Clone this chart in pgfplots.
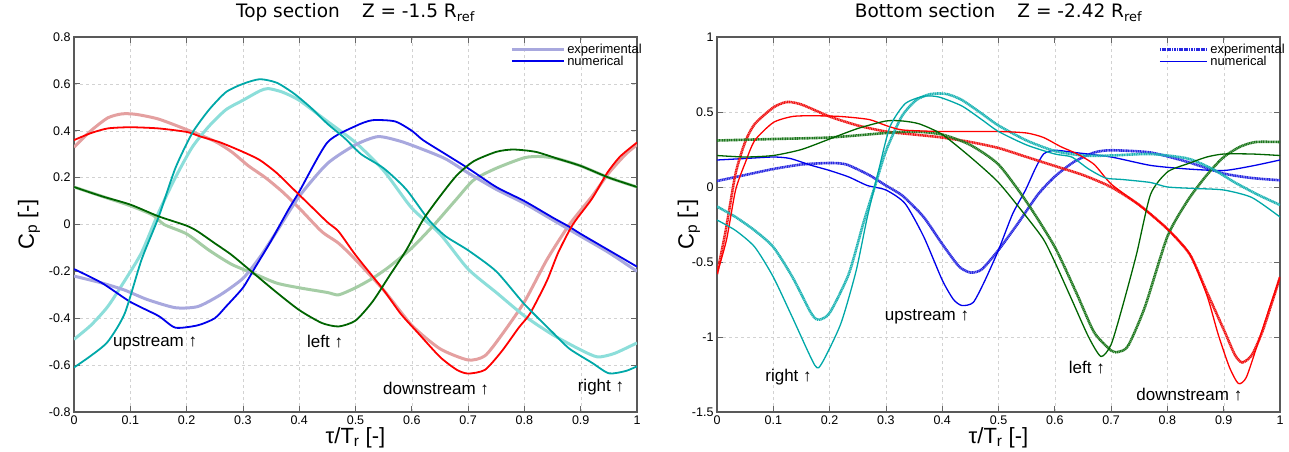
\documentclass[border=0pt]{standalone}
\usepackage{fontspec}
\setmainfont{Liberation Sans}
\newfontfamily\djv{DejaVu Sans}
\usepackage{pgfplots}
\pgfplotsset{compat=1.18}
\definecolor{cred}{RGB}{255,0,0}
\definecolor{cblue}{RGB}{0,0,235}
\definecolor{ccyan}{RGB}{0,168,168}
\definecolor{cgreen}{RGB}{0,100,0}
\definecolor{pred}{RGB}{228,160,160}
\definecolor{pblue}{RGB}{168,168,222}
\definecolor{pcyan}{RGB}{140,222,218}
\definecolor{pgreen}{RGB}{165,205,165}
\definecolor{tred}{RGB}{240,20,20}
\definecolor{tblue}{RGB}{40,40,225}
\definecolor{tcyan}{RGB}{30,180,180}
\definecolor{tgreen}{RGB}{30,120,30}
\tikzset{ann/.style={font=\fontsize{17}{17}\selectfont}}
\pgfplotsset{
  myax/.style={
    scale only axis, width=563pt, height=375pt,
    xmin=0, xmax=1,
    xtick={0,0.1,0.2,0.3,0.4,0.5,0.6,0.7,0.8,0.9,1},
    xticklabels={0,0.1,0.2,0.3,0.4,0.5,0.6,0.7,0.8,0.9,1},
    grid=major, grid style={dashed, gray!35},
    axis line style={black!65, line width=1.1pt},
    tick align=inside, xtick pos=both, ytick pos=both,
    major tick length=6pt, tick style={black!60, line width=0.8pt},
    ticklabel style={font=\fontsize{12.5}{12.5}\selectfont},
    xlabel={τ/T\textsubscript{r} [-]},
    ylabel={C\textsubscript{p} [-]},
    label style={font=\fontsize{22}{22}\selectfont},
    xlabel style={at={(axis description cs:0.5,-0.069)}, anchor=center},
    title style={at={(axis description cs:0.5,1.05)}, anchor=center, font=\djv\fontsize{18.5}{18.5}\selectfont},
    legend cell align=left,
    legend style={draw=none, fill=none, font=\fontsize{13}{13}\selectfont, inner sep=1pt, row sep=-3pt, at={(1.014,0.99)}, anchor=north east},
    legend image code/.code={\draw[#1] (0pt,0pt) -- (52pt,0pt);},
  },
  numL/.style={line width=1.8pt, smooth, tension=0.4},
  expL/.style={line width=3pt, smooth, tension=0.4},
  numR/.style={line width=1.3pt, smooth, tension=0.4},
  expR/.style={line width=2.6pt, smooth, tension=0.4, dash pattern=on 1.2pt off 0.5pt},
}
\begin{document}
\begin{tikzpicture}
\useasboundingbox (0,0) rectangle (1289pt,451pt);
\begin{axis}[myax, at={(74pt,39pt)}, anchor=south west,
  ymin=-0.8, ymax=0.8,
  ytick={-0.8,-0.6,-0.4,-0.2,0,0.2,0.4,0.6,0.8},
  yticklabels={-0.8,-0.6,-0.4,-0.2,0,0.2,0.4,0.6,0.8},
  ylabel style={at={(axis description cs:-0.08,0.5)}, anchor=center},
  title={Top section\hspace{1.2em}Z = -1.5 R\textsubscript{ref}}]
% experimental (light)
\addplot[expL, pred, forget plot] coordinates {(0,0.33)(0.03,0.40)(0.06,0.455)(0.085,0.472)(0.11,0.47)(0.15,0.45)(0.2,0.405)(0.25,0.355)(0.28,0.31)(0.31,0.25)(0.34,0.20)(0.37,0.14)(0.4,0.07)(0.44,-0.03)(0.47,-0.08)(0.5,-0.15)(0.55,-0.28)(0.6,-0.43)(0.65,-0.53)(0.7,-0.578)(0.73,-0.56)(0.76,-0.47)(0.8,-0.33)(0.84,-0.15)(0.88,0.0)(0.92,0.12)(0.95,0.22)(0.98,0.3)(1.0,0.34)};
\addplot[expL, pcyan, forget plot] coordinates {(0,-0.49)(0.03,-0.43)(0.06,-0.35)(0.09,-0.24)(0.12,-0.12)(0.15,0.05)(0.18,0.20)(0.21,0.33)(0.24,0.42)(0.27,0.49)(0.3,0.53)(0.33,0.57)(0.345,0.58)(0.37,0.565)(0.4,0.53)(0.45,0.44)(0.5,0.35)(0.55,0.23)(0.6,0.07)(0.65,-0.04)(0.7,-0.19)(0.75,-0.29)(0.8,-0.39)(0.85,-0.47)(0.9,-0.535)(0.93,-0.565)(0.96,-0.55)(1.0,-0.505)};
\addplot[expL, pgreen, forget plot] coordinates {(0,0.16)(0.05,0.12)(0.1,0.08)(0.14,0.04)(0.16,0.0)(0.2,-0.04)(0.24,-0.11)(0.28,-0.17)(0.32,-0.21)(0.36,-0.25)(0.4,-0.27)(0.45,-0.29)(0.47,-0.30)(0.5,-0.27)(0.53,-0.23)(0.56,-0.18)(0.6,-0.1)(0.64,0.0)(0.68,0.11)(0.71,0.19)(0.75,0.24)(0.8,0.285)(0.83,0.29)(0.86,0.28)(0.9,0.25)(0.95,0.20)(1.0,0.16)};
\addplot[expL, pblue] coordinates {(0,-0.22)(0.05,-0.25)(0.09,-0.28)(0.13,-0.32)(0.18,-0.355)(0.22,-0.35)(0.26,-0.30)(0.3,-0.23)(0.33,-0.14)(0.36,-0.03)(0.4,0.12)(0.45,0.26)(0.5,0.34)(0.54,0.375)(0.58,0.355)(0.62,0.32)(0.66,0.28)(0.7,0.22)(0.75,0.15)(0.8,0.09)(0.85,0.02)(0.9,-0.05)(0.95,-0.12)(1.0,-0.20)};
\addlegendentry{experimental}
% numerical
\addplot[numL, cblue] coordinates {(0,-0.19)(0.05,-0.25)(0.1,-0.33)(0.15,-0.39)(0.18,-0.44)(0.22,-0.43)(0.25,-0.40)(0.27,-0.35)(0.3,-0.27)(0.32,-0.19)(0.35,-0.07)(0.38,0.06)(0.4,0.14)(0.45,0.35)(0.5,0.42)(0.53,0.445)(0.57,0.44)(0.6,0.40)(0.62,0.36)(0.66,0.30)(0.7,0.24)(0.75,0.16)(0.8,0.10)(0.85,0.03)(0.88,-0.01)(0.9,-0.04)(0.95,-0.11)(1.0,-0.18)};
\addlegendentry{numerical}
\addplot[numL, cred, forget plot] coordinates {(0,0.36)(0.03,0.39)(0.06,0.41)(0.1,0.415)(0.15,0.41)(0.2,0.395)(0.225,0.375)(0.26,0.35)(0.3,0.31)(0.33,0.275)(0.36,0.22)(0.39,0.15)(0.42,0.08)(0.45,0.01)(0.47,-0.03)(0.5,-0.13)(0.55,-0.28)(0.58,-0.38)(0.61,-0.46)(0.65,-0.565)(0.68,-0.62)(0.7,-0.636)(0.73,-0.62)(0.76,-0.54)(0.79,-0.44)(0.81,-0.38)(0.84,-0.24)(0.86,-0.12)(0.886,0.0)(0.92,0.11)(0.947,0.22)(0.97,0.29)(1.0,0.35)};
\addplot[numL, ccyan, forget plot] coordinates {(0,-0.61)(0.03,-0.56)(0.06,-0.50)(0.09,-0.38)(0.12,-0.15)(0.15,0.03)(0.18,0.24)(0.21,0.39)(0.24,0.49)(0.27,0.565)(0.3,0.60)(0.33,0.62)(0.36,0.605)(0.39,0.56)(0.42,0.50)(0.45,0.43)(0.48,0.37)(0.51,0.30)(0.55,0.24)(0.59,0.15)(0.63,0.02)(0.66,-0.05)(0.7,-0.11)(0.75,-0.20)(0.8,-0.34)(0.85,-0.46)(0.88,-0.53)(0.92,-0.59)(0.95,-0.635)(0.98,-0.625)(1.0,-0.605)};
\addplot[numL, cgreen, forget plot] coordinates {(0,0.16)(0.05,0.12)(0.1,0.085)(0.15,0.035)(0.2,-0.005)(0.22,-0.03)(0.25,-0.08)(0.28,-0.13)(0.32,-0.21)(0.36,-0.29)(0.4,-0.365)(0.44,-0.42)(0.47,-0.435)(0.5,-0.41)(0.53,-0.33)(0.56,-0.22)(0.59,-0.11)(0.62,0.02)(0.65,0.12)(0.68,0.21)(0.71,0.27)(0.75,0.31)(0.78,0.32)(0.82,0.31)(0.86,0.28)(0.9,0.25)(0.95,0.20)(1.0,0.16)};
\node[ann] at (axis cs:0.144,-0.505) {upstream ↑};
\node[ann] at (axis cs:0.446,-0.50) {left ↑};
\node[ann] at (axis cs:0.643,-0.70) {downstream ↑};
\node[ann] at (axis cs:0.936,-0.693) {right ↑};
\end{axis}
\begin{axis}[myax, at={(717pt,39pt)}, anchor=south west,
  ymin=-1.5, ymax=1,
  ytick={-1.5,-1,-0.5,0,0.5,1},
  yticklabels={-1.5,-1,-0.5,0,0.5,1},
  ylabel style={at={(axis description cs:-0.05,0.5)}, anchor=center},
  legend image code/.code={\draw[#1] (0pt,0pt) -- (47pt,0pt);},
  title={Bottom section\hspace{1.2em}Z = -2.42 R\textsubscript{ref}}]
% experimental (thick beaded)
\addplot[expR, tblue] coordinates {(0,0.04)(0.05,0.08)(0.1,0.12)(0.15,0.15)(0.2,0.16)(0.23,0.15)(0.27,0.08)(0.3,0.01)(0.33,-0.06)(0.367,-0.2)(0.4,-0.38)(0.43,-0.53)(0.45,-0.57)(0.47,-0.55)(0.5,-0.42)(0.535,-0.24)(0.57,-0.05)(0.6,0.07)(0.635,0.17)(0.67,0.23)(0.7,0.245)(0.77,0.23)(0.836,0.167)(0.9,0.09)(0.95,0.06)(1,0.045)};
\addlegendentry{experimental}
\addplot[numR, cblue] coordinates {(0,0.18)(0.05,0.19)(0.1,0.2)(0.13,0.19)(0.167,0.145)(0.2,0.11)(0.234,0.067)(0.267,0.01)(0.3,-0.02)(0.334,-0.11)(0.367,-0.33)(0.4,-0.62)(0.42,-0.75)(0.435,-0.79)(0.455,-0.77)(0.475,-0.63)(0.5,-0.42)(0.525,-0.18)(0.548,-0.02)(0.565,0.12)(0.58,0.22)(0.6,0.245)(0.635,0.23)(0.7,0.2)(0.77,0.144)(0.836,0.12)(0.9,0.11)(0.95,0.14)(1,0.18)};
\addlegendentry{numerical}
\addplot[expR, tred, forget plot] coordinates {(0,-0.58)(0.015,-0.3)(0.033,0.09)(0.05,0.3)(0.067,0.42)(0.1,0.53)(0.124,0.567)(0.15,0.55)(0.2,0.47)(0.25,0.41)(0.3,0.37)(0.35,0.35)(0.4,0.33)(0.45,0.30)(0.5,0.26)(0.55,0.2)(0.6,0.14)(0.65,0.08)(0.7,0.0)(0.75,-0.12)(0.8,-0.28)(0.84,-0.45)(0.87,-0.7)(0.9,-0.95)(0.92,-1.12)(0.933,-1.17)(0.95,-1.12)(0.97,-0.95)(1,-0.6)};
\addplot[expR, tgreen, forget plot] coordinates {(0,0.31)(0.1,0.32)(0.2,0.33)(0.3,0.36)(0.35,0.37)(0.4,0.35)(0.45,0.28)(0.5,0.15)(0.55,-0.1)(0.6,-0.4)(0.64,-0.72)(0.67,-0.97)(0.7,-1.09)(0.712,-1.1)(0.73,-1.06)(0.76,-0.8)(0.8,-0.33)(0.836,-0.09)(0.87,0.08)(0.9,0.2)(0.93,0.27)(0.957,0.3)(1,0.3)};
\addplot[expR, tcyan, forget plot] coordinates {(0,-0.13)(0.033,-0.2)(0.067,-0.29)(0.1,-0.4)(0.134,-0.6)(0.167,-0.84)(0.18,-0.885)(0.2,-0.84)(0.234,-0.58)(0.26,-0.24)(0.28,0.0)(0.3,0.24)(0.328,0.47)(0.354,0.58)(0.38,0.62)(0.408,0.62)(0.435,0.58)(0.47,0.49)(0.5,0.41)(0.55,0.31)(0.6,0.24)(0.65,0.21)(0.7,0.21)(0.77,0.22)(0.836,0.19)(0.88,0.12)(0.92,0.03)(0.96,-0.05)(1,-0.12)};
% numerical (thin)
\addplot[numR, cred, forget plot] coordinates {(0,-0.58)(0.017,-0.35)(0.033,-0.02)(0.05,0.16)(0.067,0.31)(0.1,0.43)(0.134,0.47)(0.17,0.475)(0.22,0.47)(0.27,0.45)(0.3,0.41)(0.33,0.38)(0.4,0.37)(0.5,0.37)(0.55,0.36)(0.58,0.33)(0.61,0.27)(0.64,0.22)(0.67,0.15)(0.7,0.02)(0.75,-0.12)(0.8,-0.28)(0.84,-0.45)(0.87,-0.72)(0.89,-0.98)(0.91,-1.2)(0.926,-1.31)(0.94,-1.27)(0.96,-1.05)(0.98,-0.82)(1,-0.6)};
\addplot[numR, cgreen, forget plot] coordinates {(0,0.21)(0.05,0.2)(0.1,0.21)(0.15,0.25)(0.2,0.32)(0.25,0.39)(0.3,0.44)(0.33,0.44)(0.36,0.42)(0.4,0.35)(0.45,0.2)(0.5,0.03)(0.55,-0.2)(0.58,-0.35)(0.6,-0.5)(0.63,-0.75)(0.66,-1.0)(0.682,-1.13)(0.7,-1.05)(0.72,-0.8)(0.745,-0.45)(0.77,-0.05)(0.8,0.1)(0.836,0.155)(0.87,0.2)(0.9,0.22)(0.95,0.22)(1,0.21)};
\addplot[numR, ccyan, forget plot] coordinates {(0,-0.22)(0.033,-0.29)(0.067,-0.4)(0.1,-0.6)(0.134,-0.87)(0.174,-1.19)(0.187,-1.17)(0.22,-0.91)(0.247,-0.56)(0.267,-0.2)(0.287,0.11)(0.307,0.4)(0.334,0.555)(0.367,0.605)(0.394,0.6)(0.435,0.54)(0.47,0.45)(0.5,0.37)(0.55,0.28)(0.6,0.22)(0.63,0.2)(0.66,0.12)(0.69,0.06)(0.72,0.05)(0.77,0.03)(0.8,0.0)(0.85,-0.01)(0.9,-0.02)(0.95,-0.07)(1,-0.2)};
\node[ann] at (axis cs:0.127,-1.27) {right ↑};
\node[ann] at (axis cs:0.373,-0.867) {upstream ↑};
\node[ann] at (axis cs:0.657,-1.204) {left ↑};
\node[ann] at (axis cs:0.839,-1.384) {downstream ↑};
\end{axis}
\end{tikzpicture}
\end{document}
